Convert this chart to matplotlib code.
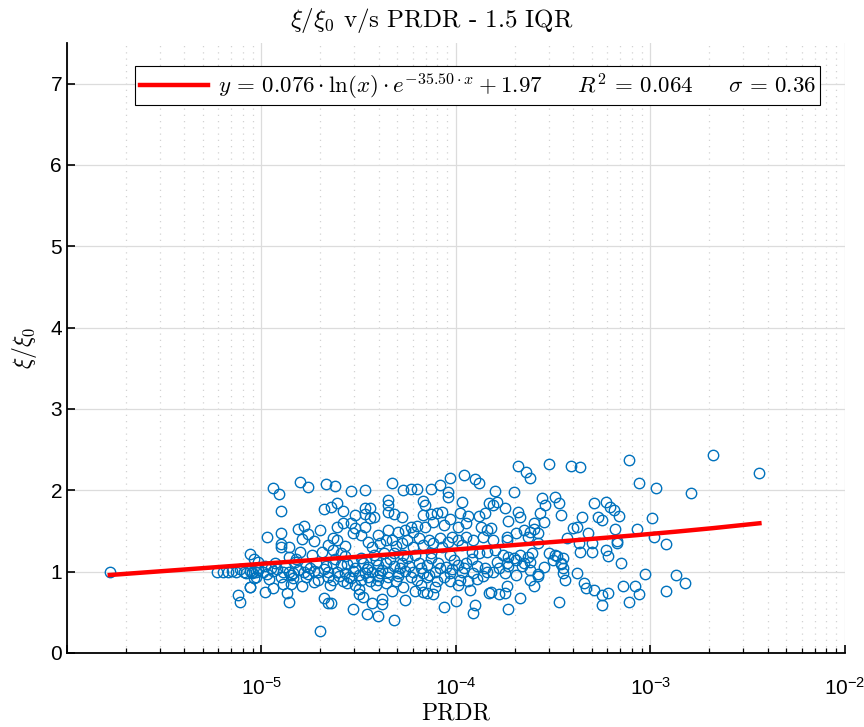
import numpy as np
import matplotlib
matplotlib.use("Agg")
import matplotlib.pyplot as plt
from matplotlib.ticker import LogLocator, FuncFormatter, NullFormatter

plt.rcParams['mathtext.fontset'] = 'cm'
plt.rcParams['font.family'] = ['Liberation Sans', 'DejaVu Sans']

# log10(PRDR) and xi/xi0
log_prdr = [
    -5.78, -5.23, -5.20, -5.17, -5.15, -5.13, -5.11, -5.09, -5.08, -5.06, -5.12, -5.11, -5.06, -5.06,
    -5.05, -5.03, -5.02, -5.04,
    -4.94, -4.91, -4.80, -4.76, -4.67, -4.90, -4.68, -4.97, -4.90, -4.90, -4.90, -4.86, -4.81, -4.78,
    -4.76, -4.79, -4.73, -4.70, -4.80, -4.86, -4.69, -4.66,
    -5.05, -5.02, -4.99, -4.97, -4.94, -4.92, -4.89, -4.86, -4.84, -4.81, -4.78, -4.76, -4.73, -4.71,
    -4.68, -4.66,
    -5.04, -4.98, -4.94, -4.89, -4.85, -4.87, -4.86, -4.79, -4.73, -4.68, -4.66, -4.70, -5.06,
    -5.02, -4.98, -4.93, -4.88, -4.83, -4.77, -4.72, -4.67,
    -5.03, -4.96, -4.90, -4.84, -4.77, -4.71, -4.66,
    -4.62, -4.54, -4.47, -4.33, -4.27, -4.23, -4.35, -4.35, -4.35, -4.32, -4.28, -4.61, -4.64, -4.58,
    -4.47, -4.44, -4.47, -4.44, -4.42, -4.52, -4.54, -4.58, -4.61, -4.52, -4.47, -4.53, -4.49, -4.40,
    -4.35, -4.30, -4.26, -4.23, -4.63, -4.61, -4.57, -4.45, -4.43, -4.39, -4.36, -4.33, -4.31, -4.28,
    -4.25, -4.42, -4.37, -4.32, -4.27, -4.63, -4.59,
    -4.63, -4.59, -4.56, -4.53, -4.48, -4.45, -4.40, -4.36, -4.32, -4.28, -4.24,
    -4.61, -4.57, -4.53, -4.47, -4.43, -4.39, -4.35, -4.30, -4.26,
    -4.63, -4.58, -4.54, -4.49, -4.44, -4.40, -4.36, -4.31, -4.27, -4.23,
    -4.56, -4.50, -4.50, -4.48, -4.43, -4.38, -4.38, -4.53, -4.46, -4.40, -4.32, -4.26, -4.64,
    -4.03, -3.96, -3.90, -3.88, -4.08, -4.13, -4.20, -4.04, -4.04, -3.97, -4.17, -4.16, -3.83, -4.07,
    -4.10, -4.13, -4.17, -4.03, -3.98, -3.94, -3.88, -3.85, -4.20, -4.16, -4.12, -4.06, -3.99, -3.95,
    -3.87, -3.84, -4.22, -4.19, -4.14, -4.08, -4.02, -3.99, -3.95, -3.91, -3.86, -4.22, -4.17, -4.12,
    -4.07, -4.04, -3.97, -3.92, -3.88, -3.84, -4.21, -4.13, -4.03, -4.01,
    -4.19, -4.15, -4.09, -4.05, -3.99, -3.95, -3.89, -3.85,
    -4.22, -4.17, -4.11, -4.03, -3.97, -3.91, -3.84,
    -4.20, -4.15, -4.10, -4.03, -3.98, -3.94, -3.89,
    -4.21, -4.17, -4.15, -4.11, -4.12, -4.00, -4.06, -3.90, -3.91, -3.83,
    -3.68, -3.52, -3.64, -3.62, -3.41, -3.80, -3.70, -3.79, -3.81, -3.75, -3.56, -3.54, -3.49, -3.47,
    -3.46, -3.68, -3.67, -3.57, -3.73, -3.60, -3.55, -3.82, -3.74, -3.69, -3.65, -3.62, -3.60, -3.58,
    -3.63, -3.43, -3.81, -3.74, -3.58, -3.80, -3.76, -3.73, -3.70, -3.67, -3.63, -3.61, -3.52, -3.49,
    -3.45, -3.79, -3.74, -3.69, -3.65, -3.62, -3.50, -3.46, -3.78, -3.73, -3.66, -3.62, -3.55, -3.45,
    -3.81, -3.75, -3.69, -3.58, -3.45, -3.62, -3.58, -3.44, -3.60, -3.74, -3.82, -3.78, -3.75, -3.67,
    -3.73, -3.47,
    -3.36, -3.11, -3.06, -2.97, -3.35, -3.29, -3.23, -3.21, -3.19, -3.27, -3.25, -3.16, -2.99, -3.40,
    -3.38, -3.18, -3.07, -3.32, -2.98, -3.37, -3.30, -3.17, -3.17, -3.36, -3.30, -3.23, -3.22, -3.15,
    -3.48, -3.46, -3.38, -3.34, -3.33, -3.29, -3.25, -3.22, -3.25, -3.14, -3.08, -3.06, -3.11, -3.03,
    -2.68, -2.44, -2.79, -2.92, -2.87, -2.82, -2.92,
    -4.62, -4.57, -4.52, -4.49, -4.46, -4.41, -4.38, -4.34, -4.29, -4.25,
    -4.60, -4.55, -4.50, -4.45, -4.40, -4.35, -4.30,
    -4.18, -4.13, -4.08, -4.02, -3.96, -3.92, -3.86, -4.06, -4.14,
    -4.95, -4.85, -4.75, -4.82, -4.74,
    -4.65, -4.52, -4.41, -4.33, -4.18, -3.99, -3.93,
]
xi_ratio = [
    1.00, 1.00, 1.00, 1.00, 1.01, 1.00, 1.03, 1.00, 0.98, 1.01, 0.71, 0.63, 1.22, 0.81,
    0.99, 1.00, 1.05, 1.15,
    2.03, 1.95, 2.10, 2.04, 2.08, 1.75, 1.77, 1.43, 1.48, 1.34, 1.30, 1.30, 1.52, 1.56,
    1.46, 1.40, 1.38, 1.51, 1.24, 1.18, 1.24, 1.33,
    0.98, 1.02, 1.00, 0.97, 1.01, 1.03, 0.99, 1.00, 0.98, 1.02, 1.00, 0.97, 1.01, 0.99,
    1.03, 1.00,
    0.92, 0.75, 0.80, 0.85, 0.85, 0.74, 0.63, 0.82, 0.87, 0.68, 0.61, 0.27, 0.81,
    1.12, 1.07, 1.11, 1.06, 1.12, 1.07, 1.11, 1.07,
    0.93, 0.91, 0.94, 0.92, 0.93, 0.90, 0.94,
    2.05, 1.99, 2.00, 2.09, 2.00, 2.02, 1.88, 1.82, 1.73, 1.71, 1.67, 1.85, 1.80, 1.75,
    1.78, 1.78, 1.71, 1.66, 1.67, 1.70, 1.60, 1.60, 1.55, 1.54, 1.55, 1.48, 1.45, 1.45,
    1.51, 1.49, 1.51, 1.55, 1.41, 1.39, 1.32, 1.37, 1.30, 1.35, 1.39, 1.39, 1.32, 1.35,
    1.39, 1.21, 1.23, 1.23, 1.21, 1.27, 1.23,
    1.11, 1.08, 1.09, 1.12, 1.11, 1.06, 1.08, 1.11, 1.07, 1.11, 1.07,
    1.00, 0.98, 1.01, 0.98, 1.00, 0.98, 1.00, 0.98, 1.01,
    0.90, 0.88, 0.92, 0.90, 0.88, 0.90, 0.86, 0.89, 0.81, 0.93,
    0.86, 0.79, 0.72, 0.69, 0.62, 0.66, 0.60, 0.54, 0.48, 0.46, 0.41, 0.65, 0.61,
    2.15, 2.19, 2.14, 2.09, 2.07, 2.02, 2.02, 1.98, 1.92, 1.86, 1.87, 1.82, 1.84, 1.73,
    1.72, 1.71, 1.70, 1.65, 1.72, 1.68, 1.68, 1.72, 1.56, 1.55, 1.61, 1.57, 1.55, 1.60,
    1.55, 1.51, 1.49, 1.41, 1.39, 1.41, 1.43, 1.39, 1.43, 1.39, 1.43, 1.30, 1.33, 1.35,
    1.30, 1.37, 1.33, 1.24, 1.23, 1.24, 1.21, 1.23, 1.21, 1.14,
    1.11, 1.08, 1.11, 1.06, 1.08, 1.11, 1.07, 1.05,
    1.00, 0.98, 1.00, 0.98, 1.00, 0.98, 1.00,
    0.90, 0.93, 0.88, 0.88, 0.90, 0.88, 0.91,
    0.76, 0.75, 0.74, 0.81, 0.72, 0.64, 0.57, 0.59, 0.49, 0.74,
    2.30, 2.32, 2.22, 2.15, 2.30, 1.99, 1.98, 1.86, 1.82, 1.78, 1.90, 1.82, 1.92, 1.84,
    1.70, 1.73, 1.67, 1.72, 1.62, 1.60, 1.61, 1.54, 1.43, 1.48, 1.51, 1.49, 1.52, 1.48,
    1.43, 1.41, 1.39, 1.39, 1.35, 1.27, 1.21, 1.18, 1.17, 1.21, 1.18, 1.23, 1.23, 1.21,
    1.17, 1.12, 1.11, 1.14, 1.11, 1.12, 1.14, 1.11, 1.05, 1.07, 1.07, 1.02, 1.06, 1.05,
    1.00, 0.98, 0.96, 0.97, 0.98, 0.90, 0.95, 0.90, 0.82, 0.82, 0.75, 0.73, 0.74, 0.68,
    0.54, 0.63,
    2.29, 2.37, 2.09, 2.03, 1.67, 1.84, 1.86, 1.80, 1.76, 1.67, 1.64, 1.69, 1.66, 1.54,
    1.55, 1.53, 1.53, 1.48, 1.43, 1.35, 1.35, 1.38, 1.35, 1.24, 1.24, 1.27, 1.19, 1.11,
    1.19, 1.09, 0.98, 0.86, 0.80, 0.77, 0.71, 0.74, 0.59, 0.82, 0.82, 0.73, 0.63, 0.97,
    2.44, 2.21, 1.97, 1.34, 0.96, 0.86, 0.76,
    1.16, 1.19, 1.05, 1.17, 1.03, 1.14, 1.02, 1.16, 1.04, 1.17,
    0.95, 0.94, 0.96, 0.94, 0.95, 0.93, 0.95,
    1.04, 1.17, 1.04, 1.03, 1.04, 1.16, 0.95, 0.94, 0.96,
    1.05, 0.96, 1.04, 1.16, 1.20,
    0.84, 0.83, 0.84, 0.76, 0.84, 0.83, 0.78,
]

# fit coefficients shown in the legend
fit_a = 0.076
fit_b = -35.50
fit_c = 1.97
fit_r2 = 0.064
fit_sigma = 0.36

prdr = 10 ** np.array(log_prdr)
xi = np.array(xi_ratio)

xfit = np.sort(prdr)
yfit = fit_a * np.log(xfit) * np.exp(fit_b * xfit) + fit_c

fig = plt.figure(figsize=(8.64, 7.27), dpi=100)
ax = fig.add_axes([0.0775, 0.1018, 0.9005, 0.8392])

ax.plot(prdr, xi, 'o', mfc='none', mec='#0072BD', ms=7.5, mew=1.0, zorder=3)
label = (r'$y\,=\,%.3f \cdot \ln(x) \cdot e^{%.2f \cdot x} + %.2f \quad\;\;\; R^2\,=\,%.3f \quad\;\;\; \sigma\,=\,%.2f$'
         % (fit_a, fit_b, fit_c, fit_r2, fit_sigma))
ax.plot(xfit, yfit, color='red', lw=3.2, label=label, zorder=4)

ax.set_xscale('log')
ax.set_xlim(1e-6, 1e-2)
ax.set_ylim(0, 7.5)
ax.set_yticks(range(0, 8))

ax.xaxis.set_major_locator(LogLocator(base=10, numticks=10))
ax.xaxis.set_minor_locator(LogLocator(base=10, subs=np.arange(2, 10), numticks=20))
ax.xaxis.set_minor_formatter(NullFormatter())
ax.xaxis.set_major_formatter(FuncFormatter(
    lambda v, p: '' if v < 5e-6 else r'$\mathregular{10^{%d}}$' % round(np.log10(v))))

ax.grid(True, which='major', color='#dcdcdc', lw=0.9, ls='-')
ax.grid(True, which='minor', axis='x', color='#d2d2d2', lw=0.9, ls=(0, (1, 4)))
ax.set_axisbelow(True)

for s in ['top', 'right']:
    ax.spines[s].set_visible(False)
for s in ['left', 'bottom']:
    ax.spines[s].set_linewidth(1.3)

ax.tick_params(axis='both', which='major', direction='in', length=6, width=1.2,
               labelsize=15, colors='black')
ax.tick_params(axis='x', which='minor', direction='in', length=3.5, width=0.9)
ax.tick_params(axis='x', pad=17)

fig.text(0.5, 0.972, r'$\xi/\xi_0$ v/s PRDR - 1.5 IQR', fontfamily='cmr10', fontsize=18,
         ha='center', va='center')
ax.set_xlabel('PRDR', fontfamily='cmr10', fontsize=17, labelpad=3)
ax.set_ylabel(r'$\xi/\xi_0$', fontsize=17, labelpad=8)

leg = ax.legend(loc='upper center', bbox_to_anchor=(0.528, 0.962), fontsize=16.5,
                handlelength=3.0, handletextpad=0.4, borderpad=0.2, borderaxespad=0,
                fancybox=False, framealpha=1, edgecolor='black')
leg.get_frame().set_linewidth(0.8)

fig.savefig('out.png', dpi=100)
